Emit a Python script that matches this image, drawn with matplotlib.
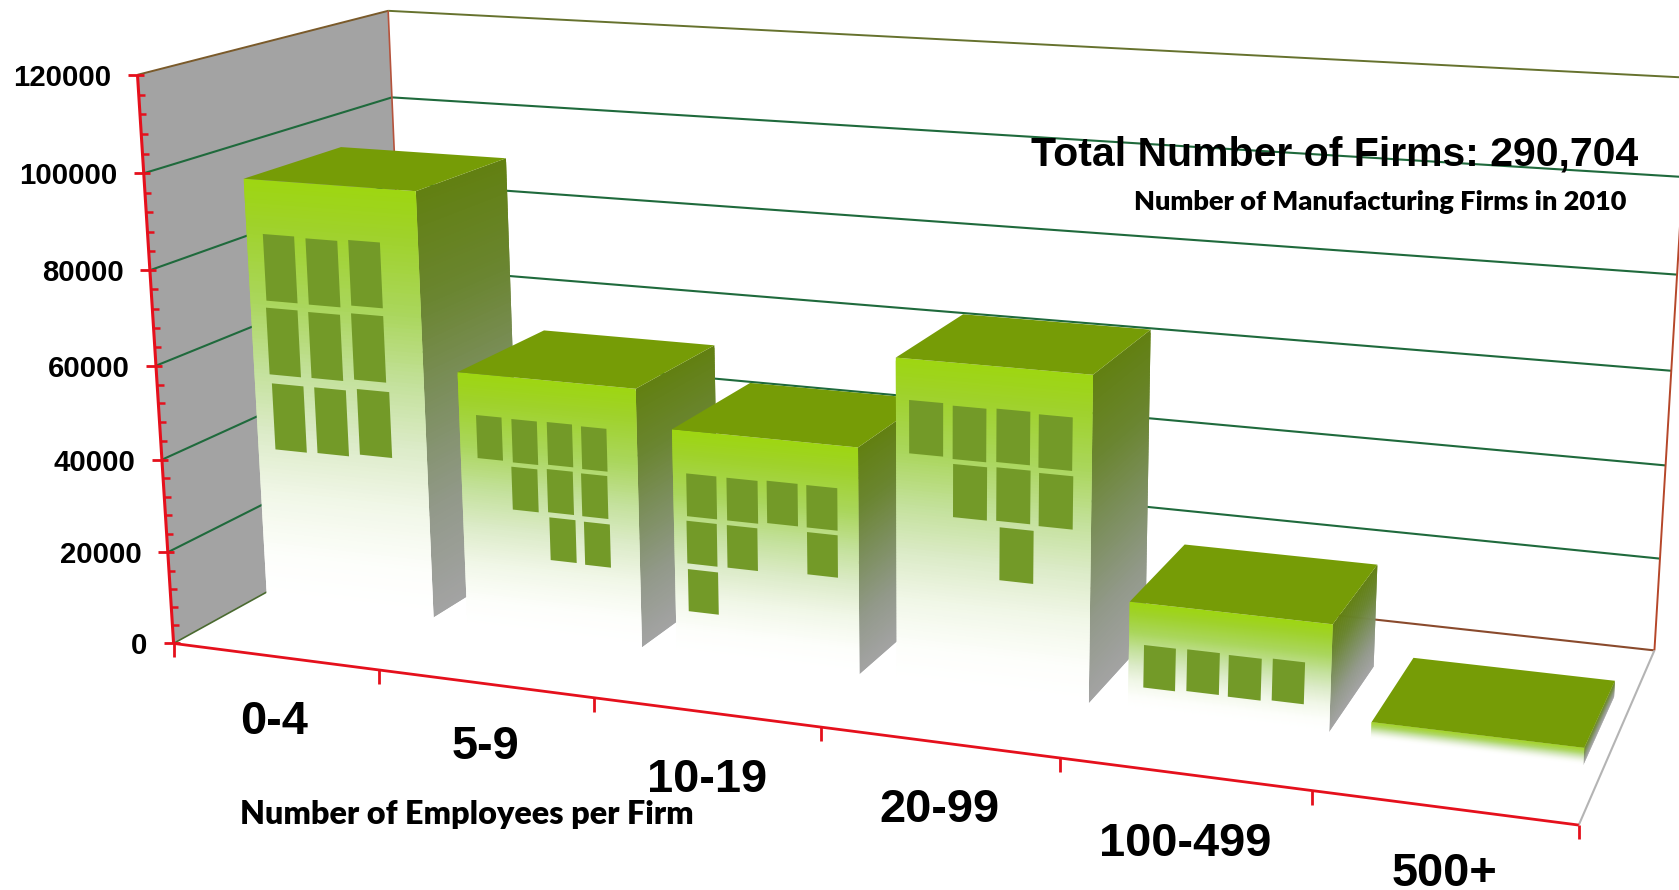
import numpy as np
import matplotlib
matplotlib.use("Agg")
import matplotlib.pyplot as plt
from matplotlib.collections import PolyCollection
from matplotlib.colors import LinearSegmentedColormap
from matplotlib.patches import Polygon

# Firm counts by employment size class
categories = ["0-4", "5-9", "10-19", "20-99", "100-499", "500+"]
firm_counts = [93000, 55700, 47900, 67200, 21900, 3400]
y_ticks = [0, 20000, 40000, 60000, 80000, 100000, 120000]
y_max = 120000

# Footprint of each building on the floor, in category units and depth units
bar_left = [0.037, 1.076, 2.080, 3.086, 4.085, 5.090]
bar_right = [0.881, 1.915, 2.916, 3.921, 4.917, 5.922]
bar_front = [0.335, 0.310, 0.308, 0.304, 0.308, 0.298]
bar_back = [0.735, 0.705, 0.710, 0.700, 0.705, 0.690]

# Windows on each front face: left, right (category units), top, bottom (firms)
windows = [
    [(0.118, 0.274, 81340, 66838), (0.330, 0.487, 81128, 66777), (0.541, 0.696, 81498, 67361),
     (0.114, 0.272, 65284, 50600), (0.325, 0.483, 65144, 50680), (0.538, 0.696, 65673, 51213),
     (0.123, 0.282, 48639, 33914), (0.336, 0.494, 48663, 34079), (0.549, 0.709, 49202, 34711)],
    [(1.157, 1.279, 46796, 37451), (1.326, 1.447, 46680, 37301), (1.494, 1.613, 46781, 37578),
     (1.655, 1.774, 46574, 37406), (1.318, 1.442, 36331, 26988), (1.487, 1.610, 36620, 27243),
     (1.649, 1.772, 36451, 27184), (1.492, 1.616, 26148, 16802), (1.656, 1.778, 26027, 16637)],
    [(2.141, 2.279, 38834, 29702), (2.325, 2.466, 38789, 29715), (2.507, 2.646, 39027, 30058),
     (2.685, 2.823, 38967, 30038), (2.138, 2.277, 28710, 19541), (2.323, 2.462, 28711, 19592),
     (2.686, 2.823, 29060, 20087), (2.140, 2.279, 18313, 9179)],
    [(3.143, 3.290, 58797, 47842), (3.331, 3.475, 58459, 47542), (3.518, 3.661, 58666, 47802),
     (3.697, 3.839, 58307, 47492), (3.333, 3.479, 46536, 35566), (3.519, 3.664, 46727, 35741),
     (3.700, 3.844, 46427, 35552), (3.534, 3.679, 34464, 23490)],
    [(4.148, 4.281, 13306, 4468), (4.328, 4.463, 13444, 4804), (4.500, 4.635, 13273, 4671),
     (4.680, 4.811, 13564, 4985)],
    [],
]

# Pinhole camera taking (category, share of y range, depth) to figure pixels
CAMERA = np.array([
    [195.979361, -42.344854, 292.843975, 173.589383],
    [10.305765, -571.989158, -59.609179, 643.408209],
    [-0.024205, -0.045352, 0.137902, 1.0],
])

RED = "#e5101c"
GRID = "#1f6a3c"
WALL = "#a3a3a3"
ROOF = "#769c06"
PANE = "#739a28"

front_cmap = LinearSegmentedColormap.from_list("front", [
    (0.00, "#9ed612"), (0.10, "#9fd22a"), (0.28, "#aad65c"), (0.45, "#c4e19c"),
    (0.60, "#dcebc8"), (0.75, "#f1f7e8"), (0.90, "#fdfefb"), (1.00, "#ffffff"),
])
side_cmap = LinearSegmentedColormap.from_list("side", [
    (0.00, "#628012"), (0.25, "#6a8530"), (0.50, "#7d8f5f"), (0.75, "#92998a"), (1.00, "#a3a3a3"),
])


def project(x, value, z):
    """Map category position, firm count and depth to pixel coordinates."""
    h = CAMERA @ np.array([x, value / y_max, z, 1.0])
    return h[:2] / h[2]


def quad(corners):
    return np.array([project(*c) for c in corners])


def gradient_face(ax, a, b, value, cmap, zorder, n=110):
    """Fill the vertical face over floor segment a-b with a top-to-bottom gradient."""
    levels = np.linspace(value, 0, n + 1)
    polys, colors = [], []
    for i in range(n):
        lo = levels[min(i + 2, n)]
        hi = levels[i]
        polys.append(quad([(a[0], hi, a[1]), (b[0], hi, b[1]), (b[0], lo, b[1]), (a[0], lo, a[1])]))
        colors.append(cmap(i / (n - 1)))
    ax.add_collection(PolyCollection(polys, facecolors=colors, edgecolors="none",
                                     linewidths=0, zorder=zorder))


def segment(ax, p, q, **kw):
    pts = quad([p, q])
    ax.plot(pts[:, 0], pts[:, 1], solid_capstyle="butt", **kw)


def fitted_text(ax, x, y, text, width, **kw):
    """Place text and scale its font size so that it spans the given pixel width."""
    t = ax.text(x, y, text, **kw)
    extent = t.get_window_extent(ax.figure.canvas.get_renderer())
    t.set_fontsize(t.get_fontsize() * width / extent.width)
    return t


fig = plt.figure(figsize=(16.79, 8.9), dpi=100, facecolor="white")
ax = fig.add_axes([0, 0, 1, 1])
ax.set_xlim(0, 1679)
ax.set_ylim(890, 0)
ax.axis("off")

# Left wall and the frame of the back wall
ax.add_patch(Polygon(quad([(0, 0, 0), (0, y_max, 0), (0, y_max, 1), (0, 0, 1)]),
                     facecolor=WALL, edgecolor="none", zorder=1))
for tick in y_ticks[1:-1]:
    segment(ax, (0, tick, 0), (0, tick, 1), color=GRID, lw=1.5, zorder=2)
    segment(ax, (0, tick, 1), (6, tick, 1), color=GRID, lw=1.5, zorder=2)
segment(ax, (0, y_max, 0), (0, y_max, 1), color="#7a5a2a", lw=1.4, zorder=2)
segment(ax, (0, y_max, 1), (6, y_max, 1), color="#66722e", lw=1.4, zorder=2)
segment(ax, (0, 0, 0), (0, 0, 1), color="#4a6a30", lw=1.2, zorder=2)
segment(ax, (0, 0, 1), (6, 0, 1), color="#8a4a2c", lw=1.5, zorder=2)
segment(ax, (0, 0, 1), (0, y_max, 1), color="#b5533c", lw=1.2, zorder=2)
segment(ax, (6, 0, 1), (6, y_max, 1), color="#b5472a", lw=1.4, zorder=2)
segment(ax, (6, 0, 0), (6, 0, 1), color="#b4b4b4", lw=1.5, zorder=2)

# Buildings, left to right so that nearer ones overlap their neighbours
for i, value in enumerate(firm_counts):
    z_order = 3 + i
    x0, x1, z0, z1 = bar_left[i], bar_right[i], bar_front[i], bar_back[i]
    gradient_face(ax, (x1, z0), (x1, z1), value, side_cmap, z_order)
    gradient_face(ax, (x0, z0), (x1, z0), value, front_cmap, z_order)
    ax.add_patch(Polygon(quad([(x0, value, z0), (x1, value, z0), (x1, value, z1), (x0, value, z1)]),
                         facecolor=ROOF, edgecolor="none", zorder=z_order))
    for left, right, top, bottom in windows[i]:
        ax.add_patch(Polygon(quad([(left, top, z0), (right, top, z0),
                                   (right, bottom, z0), (left, bottom, z0)]),
                             facecolor=PANE, edgecolor="none", zorder=z_order))

# Value axis with a cross tick at every label and short minor ticks between
segment(ax, (0, 0, 0), (0, y_max, 0), color=RED, lw=2.2, zorder=10)
for value in range(0, y_max + 1, 4000):
    px, py = project(0, value, 0)
    major = value in y_ticks
    ax.plot([px - 9.5 if major else px, px + 6.5], [py, py], color=RED,
            lw=2.0 if major else 1.8, solid_capstyle="butt", zorder=10)
    if major:
        ax.text(px - 26.5, py, str(value), ha="right", va="center_baseline",
                family="Liberation Sans", weight="bold", fontsize=21.2, color="black", zorder=11)

# Category axis, ticks at the boundaries of the classes
segment(ax, (0, 0, 0), (6, 0, 0), color=RED, lw=2.0, zorder=10)
for pos in range(7):
    px, py = project(pos, 0, 0)
    ax.plot([px, px], [py, py + 14], color=RED, lw=2.0, solid_capstyle="butt", zorder=10)

label_x = [274.5, 485, 707, 939, 1185.5, 1444]
label_baseline = [734, 759, 792, 822, 856, 886]
for text, lx, ly in zip(categories, label_x, label_baseline):
    ax.text(lx, ly, text, ha="center", va="baseline", family="Liberation Sans",
            weight="bold", fontsize=33.8, color="black", zorder=11)

fitted_text(ax, 240, 812, "Number of Employees per Firm", 453, ha="left", va="center_baseline",
            family="Lato", weight="heavy", fontsize=23, color="black", zorder=11)
fitted_text(ax, 1638, 150, "Total Number of Firms: 290,704", 607, ha="right", va="center_baseline",
            family="Liberation Sans", weight="bold", fontsize=30, color="black", zorder=11)
fitted_text(ax, 1626, 200, "Number of Manufacturing Firms in 2010", 494, ha="right", va="center_baseline",
            family="Lato", weight="heavy", fontsize=20, color="black", zorder=11)

fig.savefig("out.png", dpi=100, facecolor="white")
